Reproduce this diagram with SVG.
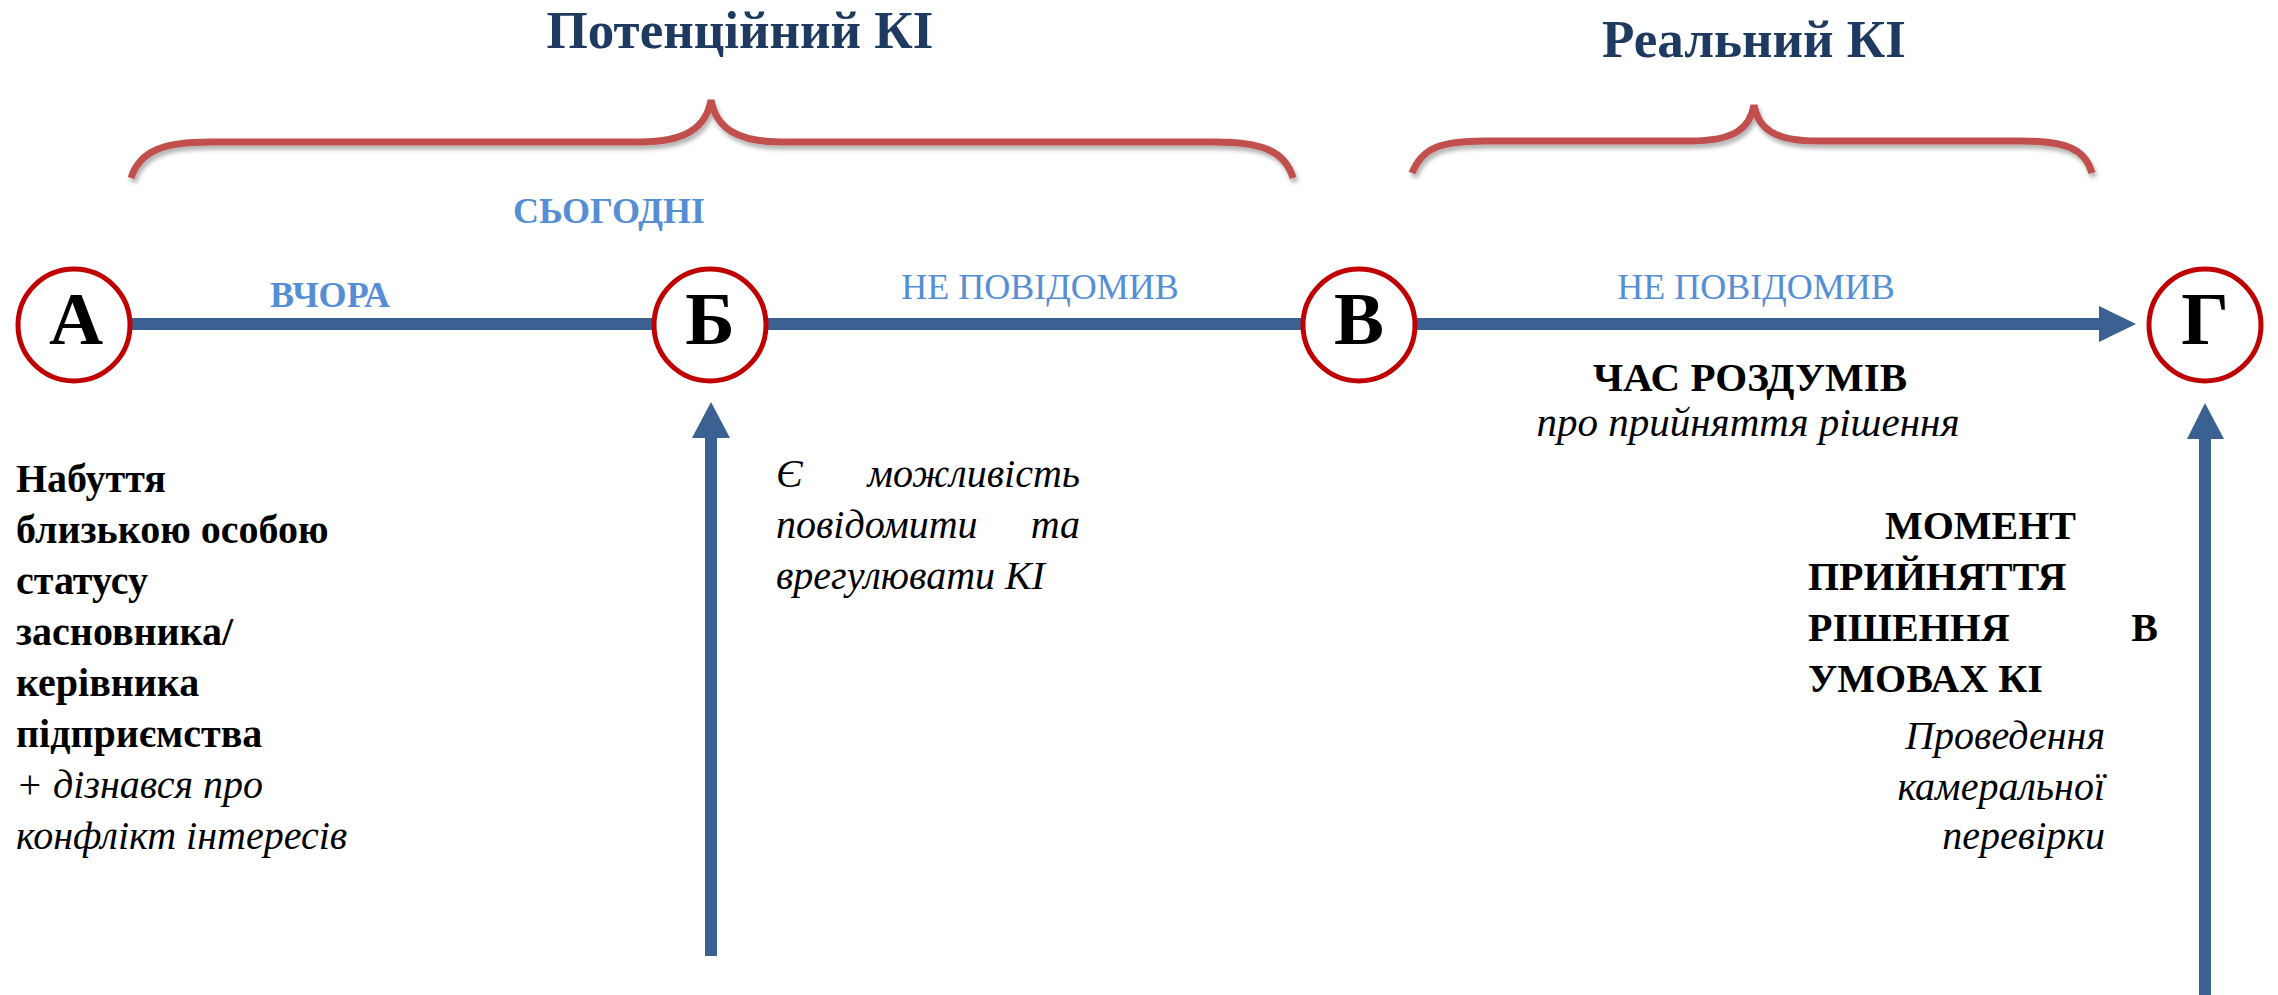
<svg xmlns="http://www.w3.org/2000/svg" width="2278" height="995" viewBox="0 0 2278 995">
<style>
text{font-family:"Liberation Serif","Times New Roman",serif}
.title{font-size:53px;font-weight:bold;fill:#1F3A60;text-anchor:middle}
.blueb{font-size:36px;font-weight:bold;fill:#558ED5;text-anchor:middle}
.bluer{font-size:36px;fill:#558ED5;text-anchor:middle}
.letter{font-size:75px;font-weight:bold;fill:#000;text-anchor:middle}
.b{font-size:40px;font-weight:bold;fill:#000}
.i{font-size:40px;font-style:italic;fill:#000}
.node{fill:#fff;stroke:#C00000;stroke-width:5}
.brace{fill:none;stroke:#C0504D;stroke-width:7;filter:url(#sh)}
.conn{fill:#3B6192}
</style>
<defs>
<filter id="sh" x="-5%" y="-30%" width="110%" height="160%">
<feDropShadow dx="2" dy="4" stdDeviation="2" flood-color="#000" flood-opacity="0.3"/>
</filter>
</defs>
<rect width="2278" height="995" fill="#fff"/>
<g id="braces">
<path class="brace" d="M131,178 C140,150 165,142 210,142 L640,142 C685,142 706,128 711,100 C716,128 737,142 782,142 L1215,142 C1260,142 1285,150 1293,178"/>
<path class="brace" d="M1412,173 C1422,148 1440,141 1485,141 L1690,141 C1735,141 1750,128 1754,105 C1758,128 1773,141 1818,141 L2020,141 C2065,141 2085,148 2092,173"/>
</g>
<g id="titles">
<text class="title" x="740" y="48">Потенційний КІ</text>
<text class="title" x="1754" y="57">Реальний КІ</text>
</g>
<g id="connectors">
<rect class="conn" x="131" y="318" width="1969" height="12"/>
<polygon class="conn" points="2099,306 2136,324 2099,342"/>
<rect class="conn" x="705" y="437" width="12" height="519"/>
<polygon class="conn" points="692,438 711,402 730,438"/>
<rect class="conn" x="2199" y="438" width="12" height="557"/>
<polygon class="conn" points="2187,439 2205,403 2224,439"/>
</g>
<g id="labels">
<text class="blueb" x="609" y="223">СЬОГОДНІ</text>
<text class="blueb" x="330" y="307">ВЧОРА</text>
<text class="bluer" x="1040" y="299">НЕ ПОВІДОМИВ</text>
<text class="bluer" x="1756" y="299">НЕ ПОВІДОМИВ</text>
<text class="b" x="1750" y="391" style="font-size:41px;text-anchor:middle">ЧАС РОЗДУМІВ</text>
<text class="i" x="1748" y="436" style="font-size:41px;text-anchor:middle">про прийняття рішення</text>
</g>
<g id="node-A">
<circle class="node" cx="74" cy="325" r="56"/>
<text class="letter" x="76" y="344">А</text>
</g>
<g id="node-B">
<circle class="node" cx="710" cy="325" r="56"/>
<text class="letter" x="710" y="344">Б</text>
</g>
<g id="node-V">
<circle class="node" cx="1359" cy="325" r="56"/>
<text class="letter" x="1359" y="344">В</text>
</g>
<g id="node-G">
<circle class="node" cx="2205" cy="325" r="56"/>
<text class="letter" x="2205" y="344">Г</text>
</g>
<g id="text-A">
<text class="b" x="16" y="492">Набуття</text>
<text class="b" x="16" y="543">близькою особою</text>
<text class="b" x="16" y="594">статусу</text>
<text class="b" x="16" y="645">засновника/</text>
<text class="b" x="16" y="696">керівника</text>
<text class="b" x="16" y="747">підприємства</text>
<text class="i" x="16" y="798">+ дізнався про</text>
<text class="i" x="16" y="849">конфлікт інтересів</text>
</g>
<g id="text-B">
<text class="i" x="776" y="487">Є</text>
<text class="i" x="1080" y="487" style="text-anchor:end">можливість</text>
<text class="i" x="776" y="538">повідомити</text>
<text class="i" x="1080" y="538" style="text-anchor:end">та</text>
<text class="i" x="776" y="589">врегулювати КІ</text>
</g>
<g id="text-G">
<text class="b" x="2076" y="539" style="text-anchor:end">МОМЕНТ</text>
<text class="b" x="1808" y="590">ПРИЙНЯТТЯ</text>
<text class="b" x="1808" y="641">РІШЕННЯ</text>
<text class="b" x="2158" y="641" style="text-anchor:end">В</text>
<text class="b" x="1808" y="692">УМОВАХ КІ</text>
<text class="i" x="2105" y="749" style="text-anchor:end">Проведення</text>
<text class="i" x="2105" y="800" style="text-anchor:end">камеральної</text>
<text class="i" x="2105" y="849" style="text-anchor:end">перевірки</text>
</g>
</svg>
